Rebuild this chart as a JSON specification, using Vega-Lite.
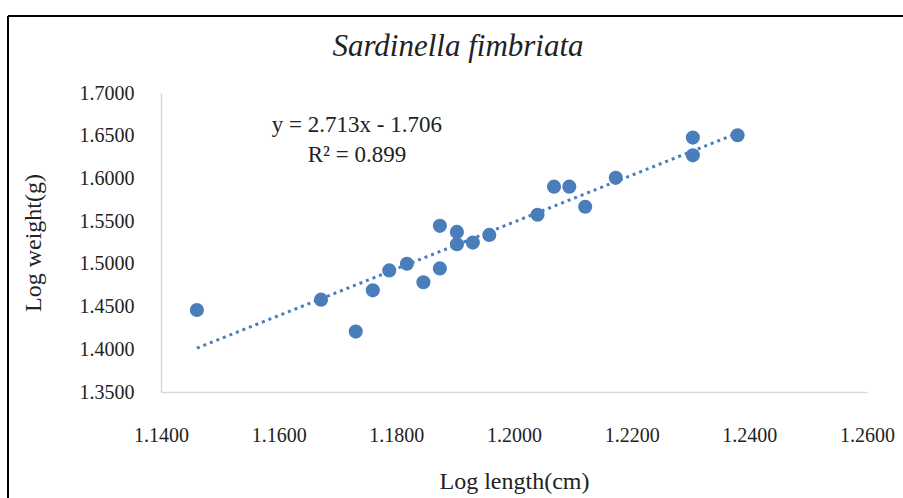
{
  "$schema": "https://vega.github.io/schema/vega-lite/v6.json",
  "width": 706,
  "height": 299,
  "autosize": {"type": "none"},
  "padding": {"left": 161, "top": 93, "right": 36, "bottom": 106},
  "background": "white",
  "config": {
    "view": {"stroke": null},
    "font": "Liberation Serif",
    "axis": {
      "grid": false,
      "ticks": false,
      "domainColor": "#d9d9d9",
      "domainWidth": 1.5,
      "labelFont": "Liberation Serif",
      "labelFontSize": 20,
      "labelColor": "#222222",
      "titleFont": "Liberation Serif",
      "titleFontSize": 24,
      "titleFontWeight": "normal",
      "titleColor": "#222222"
    }
  },
  "title": {
    "text": "Sardinella fimbriata",
    "font": "Liberation Serif",
    "fontSize": 31,
    "fontStyle": "italic",
    "fontWeight": "normal",
    "color": "#222222",
    "anchor": "middle",
    "dx": -56,
    "dy": 76,
    "offset": 28
  },
  "datasets": {
    "pts": [
      {"x": 1.1461, "y": 1.4460},
      {"x": 1.1672, "y": 1.4581},
      {"x": 1.1731, "y": 1.4207},
      {"x": 1.1760, "y": 1.4690},
      {"x": 1.1788, "y": 1.4923},
      {"x": 1.1818, "y": 1.5001},
      {"x": 1.1846, "y": 1.4785},
      {"x": 1.1874, "y": 1.4947},
      {"x": 1.1874, "y": 1.5445},
      {"x": 1.1903, "y": 1.5374},
      {"x": 1.1903, "y": 1.5229},
      {"x": 1.1930, "y": 1.5249},
      {"x": 1.1958, "y": 1.5339},
      {"x": 1.2040, "y": 1.5575},
      {"x": 1.2068, "y": 1.5904},
      {"x": 1.2094, "y": 1.5904},
      {"x": 1.2121, "y": 1.5669},
      {"x": 1.2173, "y": 1.6007},
      {"x": 1.2304, "y": 1.6478},
      {"x": 1.2304, "y": 1.6270},
      {"x": 1.2380, "y": 1.6505}
    ],
    "note": [
      {"label": ["y = 2.713x - 1.706", "R² = 0.899"]}
    ]
  },
  "data": {"name": "pts"},
  "layer": [
    {
      "data": {"values": [{}]},
      "mark": {"type": "rule", "color": "black", "strokeWidth": 2},
      "encoding": {
        "x": {"value": -153},
        "x2": {"value": 760},
        "y": {"value": -77},
        "y2": {"value": -77}
      }
    },
    {
      "data": {"values": [{}]},
      "mark": {"type": "rule", "color": "black", "strokeWidth": 2},
      "encoding": {
        "x": {"value": -153},
        "x2": {"value": -153},
        "y": {"value": -77},
        "y2": {"value": 420}
      }
    },
    {
      "transform": [{"regression": "y", "on": "x"}],
      "mark": {"type": "line", "color": "#4a7ebb", "strokeWidth": 3, "strokeDash": [3, 4]},
      "encoding": {
        "x": {"field": "x", "type": "quantitative"},
        "y": {"field": "y", "type": "quantitative"}
      }
    },
    {
      "mark": {"type": "circle", "color": "#4a7ebb", "opacity": 1, "size": 200},
      "encoding": {
        "x": {
          "field": "x",
          "type": "quantitative",
          "scale": {"domain": [1.14, 1.26], "zero": false, "nice": false},
          "axis": {
            "title": "Log length(cm)",
            "values": [1.14, 1.16, 1.18, 1.2, 1.22, 1.24, 1.26],
            "format": ".4f",
            "labelPadding": 33,
            "titlePadding": 24,
            "labelFlush": false
          }
        },
        "y": {
          "field": "y",
          "type": "quantitative",
          "scale": {"domain": [1.35, 1.7], "zero": false, "nice": false},
          "axis": {
            "title": "Log weight(g)",
            "values": [1.35, 1.4, 1.45, 1.5, 1.55, 1.6, 1.65, 1.7],
            "format": ".4f",
            "labelPadding": 27,
            "titlePadding": 34,
            "labelFlush": false
          }
        }
      }
    },
    {
      "data": {"name": "note"},
      "mark": {"type": "text", "font": "Liberation Serif", "fontSize": 23, "color": "#222222", "lineHeight": 30, "align": "center", "baseline": "middle"},
      "encoding": {
        "x": {"datum": 1.1733, "type": "quantitative"},
        "y": {"datum": 1.6623, "type": "quantitative"},
        "text": {"field": "label"}
      }
    }
  ]
}
